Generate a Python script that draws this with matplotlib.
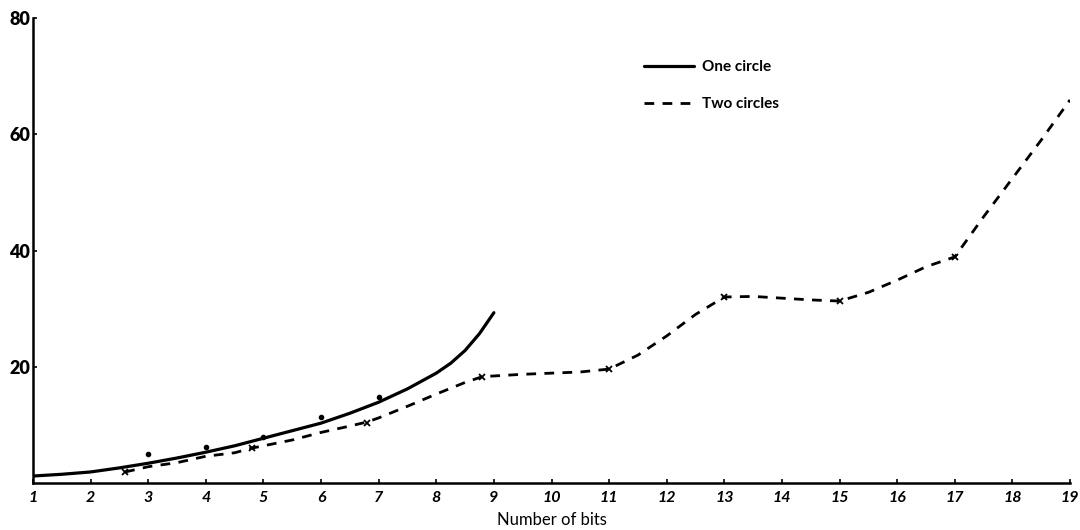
import matplotlib
matplotlib.use('Agg')
import matplotlib.pyplot as plt

# --- data ---
# One circle: smooth fitted curve + measured points
one_x = [1, 1.5, 2, 2.5, 3, 3.5, 4, 4.5, 5, 5.5, 6, 6.5, 7, 7.5, 8, 8.25, 8.5,
         8.75, 9]
one_y = [1.2, 1.5, 1.9, 2.6, 3.4, 4.3, 5.3, 6.4, 7.7, 9.0, 10.3, 12.0, 13.9, 16.2,
         18.9, 20.6, 22.8, 25.7, 29.3]
one_pts_x = [3, 4, 5, 6, 7]
one_pts_y = [5.0, 6.2, 7.9, 11.3, 14.8]

# Two circles: dashed curve + measured points (crosses)
two_x = [2.6, 3, 3.5, 4, 4.5, 4.8, 5.5, 6, 6.5, 6.8, 7, 7.5, 8, 8.5, 8.8, 9.5,
         10, 10.5, 11, 11.5, 12, 12.5, 13, 13.5, 14, 14.5, 15, 15.5, 16, 16.5,
         17, 17.5, 18, 18.5, 19]
two_y = [1.9, 2.8, 3.5, 4.6, 5.2, 6.0, 7.4, 8.7, 9.8, 10.5, 11.2, 13.2, 15.3,
         17.3, 18.3, 18.7, 18.9, 19.1, 19.6, 22.0, 25.3, 29.0, 32.0, 32.1, 31.8,
         31.5, 31.3, 32.8, 34.9, 37.2, 38.9, 45.8, 52.4, 59.0, 65.9]
two_pts_x = [2.6, 4.8, 6.8, 8.8, 11, 13, 15, 17]
two_pts_y = [1.9, 6.0, 10.3, 18.3, 19.6, 32.0, 31.3, 38.9]

x_ticks = list(range(1, 20))
y_ticks = [20, 40, 60, 80]

plt.rcParams['font.family'] = ['Lato', 'DejaVu Sans']

fig = plt.figure(figsize=(10.8, 5.3), dpi=100, facecolor='white')
ax = fig.add_axes([33 / 1080, 1 - 483 / 530, 1037 / 1080, 465 / 530])

ax.plot(one_x, one_y, color='black', linewidth=2.3, solid_capstyle='round',
        label='One circle')
ax.plot(one_pts_x, one_pts_y, linestyle='none', marker='o', markersize=3,
        color='black')

ax.plot(two_x, two_y, color='black', linewidth=2.0, linestyle=(0, (3.5, 3)),
        label='Two circles')
ax.plot(two_pts_x, two_pts_y, linestyle='none', marker='x', markersize=4,
        markeredgewidth=1.3, color='black')

ax.set_xlim(1, 19)
ax.set_ylim(0, 80)
ax.set_xticks(x_ticks)
ax.set_xticklabels([str(v) for v in x_ticks], fontsize=11.5, fontweight='bold',
                   fontstyle='italic')
ax.set_yticks(y_ticks)
ax.set_yticklabels([str(v) for v in y_ticks], fontsize=13, fontweight='heavy')
ax.tick_params(axis='x', direction='in', length=3, width=1.2, pad=6)
ax.tick_params(axis='y', direction='in', length=3, width=1.2, pad=2)

for side in ('top', 'right'):
    ax.spines[side].set_visible(False)
for side in ('left', 'bottom'):
    ax.spines[side].set_linewidth(1.8)

ax.set_xlabel('Number of bits', fontsize=12, labelpad=5)

ax.legend(loc='upper left', bbox_to_anchor=(0.589, 0.909), frameon=False,
          handlelength=3.3, handletextpad=0.5, labelspacing=1.5,
          borderpad=0, borderaxespad=0, prop={'weight': 'bold', 'size': 11})

fig.savefig('out.png', dpi=100, facecolor='white')
